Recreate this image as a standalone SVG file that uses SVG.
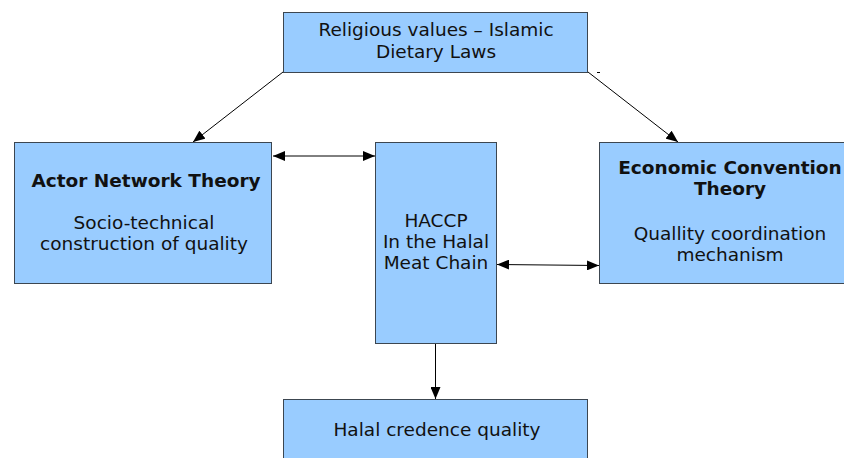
<svg xmlns="http://www.w3.org/2000/svg" width="844" height="458" viewBox="0 0 844 458">
<style>
.box{fill:#99ccff;stroke:#3c4650;stroke-width:1}
.t{font-family:"DejaVu Sans",Verdana,sans-serif;font-size:18.5px;fill:#111;text-anchor:middle}
.b{font-weight:bold}
.c{stroke:#000;stroke-width:1;fill:none}
</style>
<defs>
<marker id="ah" viewBox="0 0 12 10" refX="12" refY="5" markerWidth="12" markerHeight="10" markerUnits="userSpaceOnUse" orient="auto-start-reverse">
<path d="M0,0 L12,5 L0,10 Z" fill="#000"/>
</marker>
</defs>
<rect width="844" height="458" fill="#fff"/>
<g id="connectors">
<line class="c" x1="283" y1="72" x2="193" y2="142" marker-end="url(#ah)"/>
<line class="c" x1="588" y1="72" x2="678" y2="142" marker-end="url(#ah)"/>
<line class="c" x1="273" y1="156" x2="375" y2="156" marker-start="url(#ah)" marker-end="url(#ah)"/>
<line class="c" x1="497" y1="264.5" x2="599" y2="265.5" marker-start="url(#ah)" marker-end="url(#ah)"/>
<line class="c" x1="435.5" y1="343" x2="435.5" y2="399" marker-end="url(#ah)"/>
<line class="c" x1="597" y1="72.5" x2="600" y2="72.5"/>
</g>
<g id="religious">
<rect class="box" x="283.5" y="12.5" width="304" height="60"/>
<text class="t" x="436" y="36">Religious values – Islamic</text>
<text class="t" x="436" y="58">Dietary Laws</text>
</g>
<g id="ant">
<rect class="box" x="14.5" y="142.5" width="257" height="141"/>
<text class="t b" x="146" y="187">Actor Network Theory</text>
<text class="t" x="144" y="229">Socio-technical</text>
<text class="t" x="144" y="250">construction of quality</text>
</g>
<g id="haccp">
<rect class="box" x="375.5" y="142.5" width="121" height="201"/>
<text class="t" x="436" y="227">HACCP</text>
<text class="t" x="436" y="248">In the Halal</text>
<text class="t" x="436" y="269">Meat Chain</text>
</g>
<g id="ect">
<rect class="box" x="599.5" y="142.5" width="260" height="141"/>
<text class="t b" x="730" y="174">Economic Convention</text>
<text class="t b" x="730" y="195">Theory</text>
<text class="t" x="730" y="240">Quallity coordination</text>
<text class="t" x="730" y="261">mechanism</text>
</g>
<g id="halal">
<rect class="box" x="283.5" y="399.5" width="304" height="70"/>
<text class="t" x="437" y="436">Halal credence quality</text>
</g>
</svg>
